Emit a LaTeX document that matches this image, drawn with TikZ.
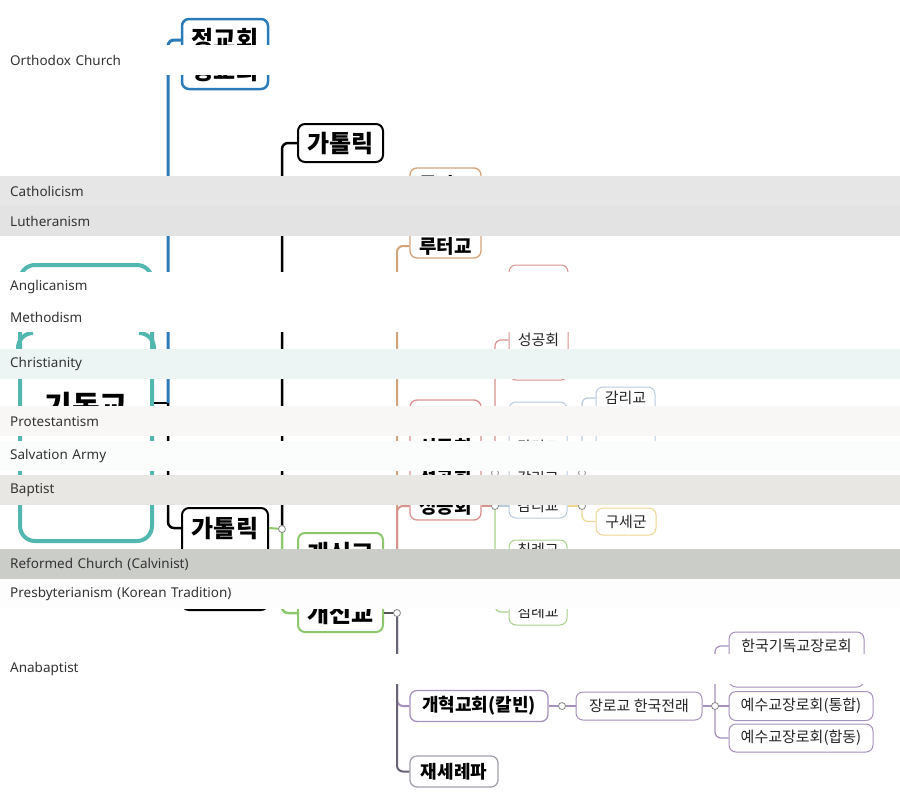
\documentclass[tikz,border=0pt]{standalone}
\usepackage{fontspec}
\setmainfont{Noto Sans}
\newfontfamily\kr{Noto Sans CJK KR}
\usetikzlibrary{calc}
\definecolor{cerceta}{HTML}{52B7AE}
\definecolor{azul}{HTML}{2B7BBA}
\definecolor{verde}{HTML}{8DC86E}
\definecolor{verdeb}{HTML}{A9D18E}
\definecolor{naranja}{HTML}{D4A47C}
\definecolor{rojo}{HTML}{D9938E}
\definecolor{celeste}{HTML}{B8CAE0}
\definecolor{amarillo}{HTML}{EFD58F}
\definecolor{lila}{HTML}{A690BE}
\definecolor{grisl}{HTML}{6B6378}
\definecolor{gris}{HTML}{555555}
\definecolor{tinta}{HTML}{333333}
\definecolor{bandA}{HTML}{E6E6E6}
\definecolor{bandB}{HTML}{E3E3E3}
\definecolor{bandC}{HTML}{EDF5F4}
\definecolor{bandD}{HTML}{F8F7F5}
\definecolor{bandE}{HTML}{FBFCFC}
\definecolor{bandF}{HTML}{E8E7E3}
\definecolor{bandG}{HTML}{CBCDC9}
\definecolor{bandH}{HTML}{FDFDFD}

\begin{document}
\begin{tikzpicture}[x=1pt, y=-1pt,
      box/.style={draw, fill=white, rounded corners=7pt, inner sep=0pt},
      hd/.style={font=\kr\bfseries\fontsize{#1}{#1}\selectfont, inner sep=0pt, text=black},
      hd/.default=19,
      tx/.style={font=\kr\fontsize{15}{15}\selectfont, inner sep=0pt, text=black!85},
      dot/.style={circle, draw=gris!70, fill=white, inner sep=0pt, minimum size=7pt, line width=0.8pt},
      lnk/.style={rounded corners=6pt, line width=#1},
      band/.style={anchor=north west, minimum width=900pt, minimum height=30pt,
                   text width=880pt, inner xsep=10pt, inner ysep=0pt, align=left,
                   font=\fontsize{13.5}{15}\selectfont, text=tinta}]
    \fill[white] (0,0) rectangle (900,804);
    \useasboundingbox (0,0) rectangle (900,804);

    % raiz
    \node[box, draw=cerceta, line width=4pt, rounded corners=15pt, minimum width=132pt, minimum height=276pt] (root) at (86,403) {};
    \draw[cerceta, line width=4pt, rounded corners=15pt] (root.west |- 0,360) -- (root.west |- 0,333) -- ++(15,0);
    \draw[cerceta, line width=4pt, rounded corners=15pt] (root.east |- 0,360) -- (root.east |- 0,333) -- ++(-15,0);
    \node[hd=30] (rootA) at (86,406) {기독교};

    % primer nivel
    \node[box, draw=azul, line width=2.5pt, minimum width=86pt, minimum height=70pt] (orth) at (225,54) {};
    \node[hd=24] (orthA) at (225,40) {정교회};
    \node[hd=24] (orthB) at (225,71) {정교회};
    \node[box, draw=black, line width=2pt, minimum width=86pt, minimum height=102pt] (cat1) at (225,559) {};
    \node[hd=24] (cat1A) at (225,528) {가톨릭};
    \node[box, hd=24, draw=black, line width=2pt, minimum width=85pt, minimum height=38pt] (cat2) at (340.5,143) {가톨릭};
    \node[box, draw=verde, line width=2pt, minimum width=85pt, minimum height=99pt] (prot) at (340.5,582.5) {};
    \node[hd=24] (protA) at (340.5,553) {개신교};
    \node[hd=24] (protB) at (340.5,613) {개신교};

    % tercer nivel
    \node[box, draw=naranja, line width=1.3pt, minimum width=71pt, minimum height=90pt] (luth) at (445.5,213) {};
    \node[hd] (luthA) at (445.5,184) {루터교};
    \node[hd] (luthB) at (445.5,246) {루터교};
    \node[box, draw=rojo, line width=1.3pt, minimum width=71pt, minimum height=120pt] (angl) at (445.5,460) {};
    \node[hd] (anglA) at (445.5,447) {성공회};
    \node[hd] (anglB) at (445.5,478) {성공회};
    \node[hd] (anglC) at (445.5,506) {성공회};
    \node[box, hd=18, draw=lila, line width=1.3pt, minimum width=138pt, minimum height=31pt] (ref) at (479,706) {개혁교회(칼빈)};
    \node[box, hd=18, draw=grisl!60, line width=1.3pt, minimum width=88pt, minimum height=31pt] (ana) at (454,771.5) {재세례파};

    % cuarto nivel
    \node[box, draw=rojo, line width=1pt, minimum width=59pt, minimum height=115pt] (ang2) at (538.5,322.5) {};
    \node[tx] (ang2A) at (538.5,340) {성공회};
    \node[box, draw=celeste, line width=1pt, minimum width=58pt, minimum height=116pt] (meth) at (538,460) {};
    \node[tx] (methA) at (538,447) {감리교};
    \node[tx] (methB) at (538,478) {감리교};
    \node[tx] (methC) at (538,506) {감리교};
    \node[box, draw=verdeb, line width=1pt, minimum width=58pt, minimum height=85pt] (bapt) at (538,582.5) {};
    \node[tx] (baptA) at (538,550) {침례교};
    \node[tx] (baptB) at (538,612) {침례교};
    \node[box, draw=celeste, line width=1pt, minimum width=59pt, minimum height=83pt] (meth2) at (625.5,428.5) {};
    \node[tx] (meth2A) at (625.5,398) {감리교};
    \node[box, tx, draw=amarillo, line width=1pt, minimum width=60pt, minimum height=27pt] (salv) at (626,521.5) {구세군};
    \node[box, tx, draw=lila, line width=1pt, minimum width=126pt, minimum height=28pt] (pres) at (639,706) {장로교 한국전래};
    \node[box, draw=lila, line width=1pt, minimum width=135pt, minimum height=55pt] (kor1) at (796.5,659.5) {};
    \node[tx] (kor1A) at (796.5,646) {한국기독교장로회};
    \node[box, tx, draw=lila, line width=1pt, minimum width=144pt, minimum height=29pt] (kor2) at (801,706) {예수교장로회(통합)};
    \node[box, tx, draw=lila, line width=1pt, minimum width=144pt, minimum height=28pt] (kor3) at (801,738) {예수교장로회(합동)};

    % conexiones
    \coordinate (j0) at (168,403);
    \coordinate (j1) at (282,529);
    \coordinate (j2) at (397,613);
    \coordinate (j3) at (495,506);
    \coordinate (j4) at (582,506);
    \coordinate (j5) at (562,706);
    \coordinate (j6) at (715,706);
    \draw[lnk=2.5pt, black] (root.east |- j0) -- (j0);
    \draw[lnk=3pt, azul] (j0) |- (orth.west |- orthA);
    \draw[lnk=2.5pt, black] (j0) |- (cat1.west |- cat1A);
    \draw[lnk=2pt, verde] (cat1.east |- cat1A) -- (j1);
    \draw[lnk=2.5pt, black] (j1) |- (cat2.west);
    \draw[lnk=2.5pt, verde] (j1) |- (prot.west |- protB);
    \draw[lnk=2pt, gris] (prot.east |- protB) -- (j2);
    \draw[lnk=2pt, naranja] (j2) |- (luth.west |- luthB);
    \draw[lnk=2pt, rojo] (j2) |- (angl.west |- anglC);
    \draw[lnk=2pt, lila] (j2) |- (ref.west);
    \draw[lnk=2pt, grisl] (j2) |- (ana.west);
    \draw[lnk=1.2pt, rojo] (angl.east |- anglC) -- (j3);
    \draw[lnk=1.2pt, rojo] (j3) |- (ang2.west |- ang2A);
    \draw[lnk=1.2pt, celeste] (j3) -- (meth.west |- methC);
    \draw[lnk=1.2pt, verdeb] (j3) |- (bapt.west |- baptB);
    \draw[lnk=1.2pt, amarillo] (meth.east |- methC) -- (j4);
    \draw[lnk=1.2pt, celeste] (j4) |- (meth2.west |- meth2A);
    \draw[lnk=1.2pt, amarillo] (j4) |- (salv.west);
    \draw[lnk=1.2pt, lila] (ref.east) -- (j5) -- (pres.west);
    \draw[lnk=1.2pt, lila] (pres.east) -- (j6) -- (kor2.west);
    \draw[lnk=1.2pt, lila] (j6) |- (kor1.west |- kor1A);
    \draw[lnk=1.2pt, lila] (j6) |- (kor3.west);
    \foreach \j in {j1,j2,j3,j4,j5,j6}
      \node[dot] (d\j) at (\j) {};
    \node[dot] (dj3b) at (495,473) {};
    \node[dot] (dj4b) at (582,473) {};

    % franjas con rotulos
    \foreach \t/\c/\s [count=\i] in {45/white/Orthodox Church, 176/bandA/Catholicism,
        206/bandB/Lutheranism, 272/white/Anglicanism, 302/white/Methodism,
        349/bandC/Christianity, 406/bandD/Protestantism, 441/bandE/Salvation Army,
        475/bandF/Baptist, 549/bandG/Reformed Church (Calvinist),
        579/bandH/Presbyterianism (Korean Tradition), 654/white/Anabaptist}
      \node[band, fill=\c] (band\i) at (0,\t) {\s};
  \end{tikzpicture}
\end{document}
